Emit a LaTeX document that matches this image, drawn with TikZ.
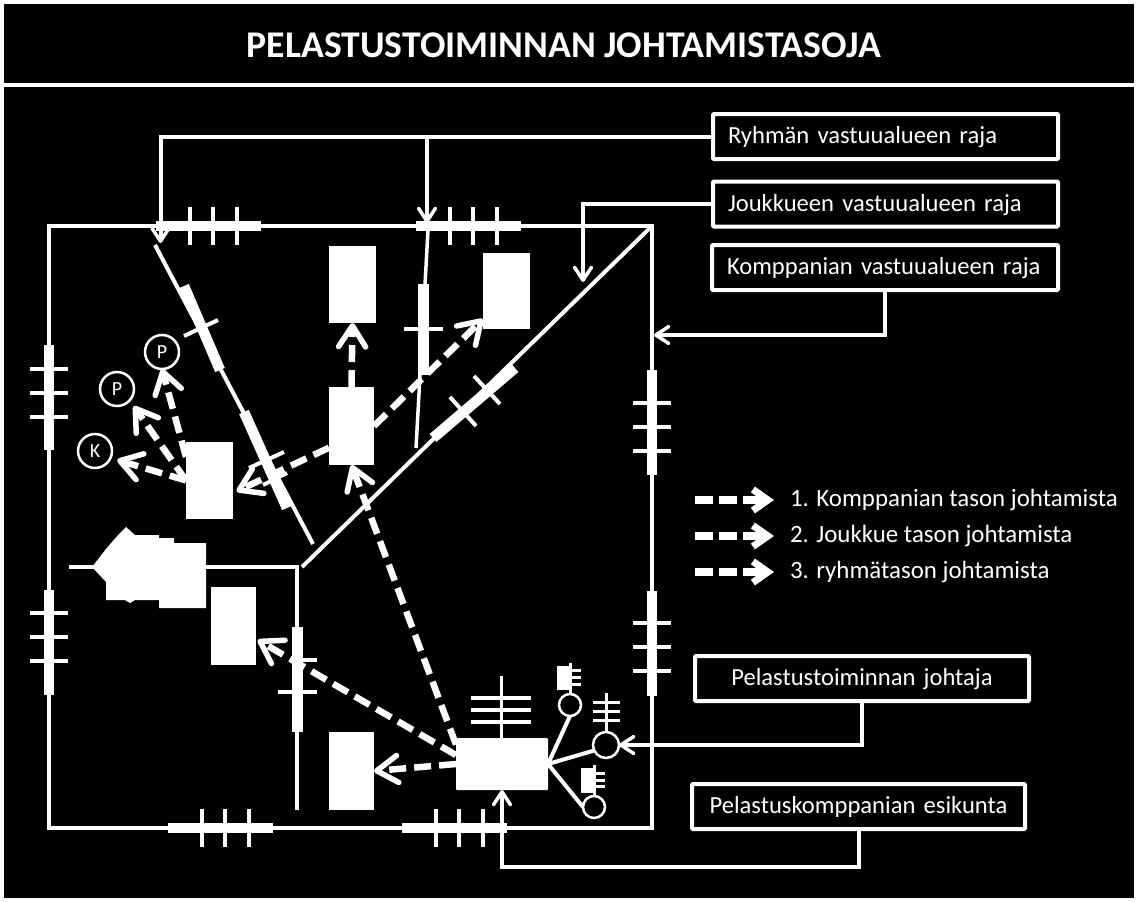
\documentclass[tikz,border=0pt]{standalone}
\usepackage{fontspec}
\setmainfont{Carlito}
\usetikzlibrary{arrows.meta}

\tikzset{
  raja/.style={white,line width=4pt},
  rajabar/.style={white,line width=10.5pt},
  unit/.style={fill=white,inner sep=0pt,outer sep=0pt},
  labelbox/.style={draw=white,line width=4pt,rounded corners=1pt,inner xsep=15pt,inner ysep=0pt,outer sep=0pt,minimum height=45pt,text height=18pt,text depth=4pt,text=white,font=\fontsize{24.6}{28}\selectfont},
  pointer/.style={white,line width=4pt,-{Straight Barb[length=13pt,width=17pt,line width=3.5pt,round]}},
  command/.style={white,line width=6.5pt,dash pattern=on 17pt off 8pt,-{Straight Barb[length=21pt,width=27pt,line width=5.5pt,round]}},
  legendarrow/.style={white,line width=7.5pt,dash pattern=on 18pt off 6pt,-{Straight Barb[length=15pt,width=21pt,line width=7pt]}},
  legendtext/.style={text=white,inner xsep=16pt,inner ysep=0pt,outer sep=0pt,text height=18pt,text depth=6pt,font=\fontsize{24.9}{28}\selectfont},
  person/.style={circle,draw=white,fill=black,line width=2.5pt,inner sep=0pt,outer sep=0pt,text=white,font=\fontsize{20}{22}\selectfont},
  mast/.style={white,line width=3pt}
}

\begin{document}
\begin{tikzpicture}[x=1pt,y=-1pt]
  \useasboundingbox (0,0) rectangle (1138,902);
  % white frame and the two black panels
  \fill[white] (0,0) rectangle (1138,902);
  \fill[black] (4,4) rectangle (1134,83);
  \fill[black] (4,87) rectangle (1134,898);
  \node[text=white,font=\fontsize{37.7}{40}\bfseries\selectfont] (title) at (564,45) {PELASTUSTOIMINNAN JOHTAMISTASOJA};

  % company area with the boundary marks
  \draw[raja] (49,226) rectangle (652,828);
  \foreach \xa/\ya in {156/226,416/226,168/828,402/828} {
    \draw[rajabar] (\xa,\ya) -- ++(105,0);
    \foreach \d in {34,57,81} \draw[raja] (\xa+\d,\ya-19) -- ++(0,38);
  }
  \foreach \xa/\ya/\o in {652/370/33,652/591/32,49/345/24,49/590/23} {
    \draw[rajabar] (\xa,\ya) -- ++(0,105);
    \foreach \d in {0,23.5,47.5} \draw[raja] (\xa-19,\ya+\o+\d) -- ++(38,0);
  }

  % diagonal from the corner
  \draw[raja] (652,226) -- (302,567);
  \draw[rajabar] (515,368) -- (433,438);
  \draw[raja] (474,376) -- (500,404);
  \draw[raja] (450,397) -- (476,426);

  % left slanted boundary
  \draw[raja] (155,245) -- (313,544);
  \draw[rajabar] (184,286) -- (220,370);
  \draw[rajabar] (244,412) -- (287,508);
  \draw[raja] (184,336) -- (218,320);
  \draw[raja] (249,468) -- (284,452);
  \draw[raja] (263,485) -- (287,473);

  % middle boundary
  \draw[white,line width=3.5pt] (428,230) -- (416,448);
  \draw[rajabar] (423.5,284) -- (423.5,375);
  \draw[raja] (404,329) -- (443,329);

  % lower left boundary and vehicles
  \fill[white] (92,567) -- (106,549) -- (118,535) -- (126,527) -- (135,535) -- (159,535) -- (159,538) -- (174,538) -- (174,543) -- (206,543) -- (206,608) -- (159,608) -- (159,600) -- (135,600) -- (130,603) -- (125,600) -- (106,600) -- (106,582) -- cycle;
  \draw[raja] (69,567) -- (297,567) -- (297,810);
  \draw[rajabar] (297.5,627) -- (297.5,732);
  \draw[raja] (292,660) -- (317,660);
  \draw[raja] (278,692) -- (317,692);

  % units
  \node[unit,minimum width=47pt,minimum height=77pt] (unitA) at (352.5,284.5) {};
  \node[unit,minimum width=47pt,minimum height=76pt] (unitB) at (506.5,291) {};
  \node[unit,minimum width=45pt,minimum height=78pt] (unitC) at (351.5,426) {};
  \node[unit,minimum width=47pt,minimum height=77pt] (unitD) at (209.5,480.5) {};
  \node[unit,minimum width=45pt,minimum height=78pt] (unitE) at (233.5,626) {};
  \node[unit,minimum width=45pt,minimum height=78pt] (unitF) at (351.5,771) {};
  \node[unit,rounded corners=1pt,minimum width=92pt,minimum height=52pt] (hq) at (502,764) {};

  % persons of the unit D
  \node[person,minimum size=34pt] (persP) at (162,352) {P};
  \node[person,minimum size=34pt] (persQ) at (117,389) {P};
  \node[person,minimum size=34pt] (persK) at (95,451) {K};

  % staff
  \draw[mast] (501,676) -- (501,738);
  \foreach \y in {698,710,722} \draw[raja] (471,\y) -- (531,\y);
  \node[person,minimum size=22pt] (staffA) at (570,705) {};
  \node[person,minimum size=26pt] (staffB) at (606,745) {};
  \node[person,minimum size=22pt] (staffC) at (594,807) {};
  \draw[raja] (hq.east) -- (staffA.south);
  \draw[raja] (hq.east) -- (staffB.205);
  \draw[raja] (hq.east) -- (staffC.west);
  \fill[white] (557,666) rectangle (569,690);
  \draw[mast] (570,663) -- (staffA.north);
  \foreach \y in {670,677,684} \draw[mast] (570,\y) -- (581,\y);
  \draw[mast] (606,693) -- (staffB.north);
  \foreach \y in {702,711,720} \draw[mast] (593,\y) -- (620,\y);
  \fill[white] (581,768) rectangle (593,793);
  \draw[mast] (594,765) -- (staffC.north);
  \foreach \y in {773,780,786} \draw[mast] (594,\y) -- (605,\y);

  % command arrows
  \draw[command] (unitC.north) -- (unitA.south);
  \draw[command] (unitC.east) -- (unitB.230);
  \draw[command,shorten >=4pt] (unitC.224) -- (unitD.-28);
  \draw[command] (unitD.135) -- (persP.south);
  \draw[command,shorten >=7pt] (unitD.west) -- (persQ.-42);
  \draw[command,shorten >=7pt] (unitD.west) -- (persK.-24);
  \draw[command] (hq.157) -- (unitC.south);
  \draw[command,shorten >=2pt] (hq.169) -- (unitE.-30);
  \draw[command] (hq.west) -- (unitF.east);

  % label boxes
  \node[labelbox,text width=315pt,align=left] (ryhma) at (885.5,136.5) {Ryhmän vastuualueen raja};
  \node[labelbox,text width=315pt,align=left] (joukkue) at (885.5,204) {Joukkueen vastuualueen raja};
  \node[labelbox,text width=316pt,align=left] (komppania) at (885,267.5) {Komppanian vastuualueen raja};
  \node[labelbox,text width=304pt,align=center] (johtaja) at (862,678.5) {Pelastustoiminnan johtaja};
  \node[labelbox,text width=303pt,align=center] (esikunta) at (858.5,806.5) {Pelastuskomppanian esikunta};

  % pointers from the labels
  \coordinate (ryhmatip) at (160.5,243);
  \coordinate (ryhmabranch) at (427,136.5);
  \coordinate (ryhmatipb) at (427,223);
  \coordinate (joukkuetip) at (583,282);
  \coordinate (komppaniatip) at (654,335);
  \coordinate (esikuntacorner) at (858.5,867);
  \draw[pointer] (ryhma.west) -| (ryhmatip);
  \draw[pointer] (ryhmabranch) -- (ryhmatipb);
  \draw[pointer] (joukkue.west) -| (joukkuetip);
  \draw[pointer] (komppania.south) |- (komppaniatip);
  \draw[pointer] (johtaja.south) |- (staffB.east);
  \draw[pointer] (esikunta.south) |- (esikuntacorner) -| (hq.south);

  % legend
  \node[legendtext,anchor=west] (legendA) at (774,500) {1. Komppanian tason johtamista};
  \node[legendtext,anchor=west] (legendB) at (774,536) {2. Joukkue tason johtamista};
  \node[legendtext,anchor=west] (legendC) at (774,572) {3. ryhmätason johtamista};
  \coordinate (startA) at (695,500);
  \coordinate (startB) at (695,536);
  \coordinate (startC) at (695,572);
  \draw[legendarrow] (startA) -- (legendA.west);
  \draw[legendarrow] (startB) -- (legendB.west);
  \draw[legendarrow] (startC) -- (legendC.west);
\end{tikzpicture}
\end{document}
